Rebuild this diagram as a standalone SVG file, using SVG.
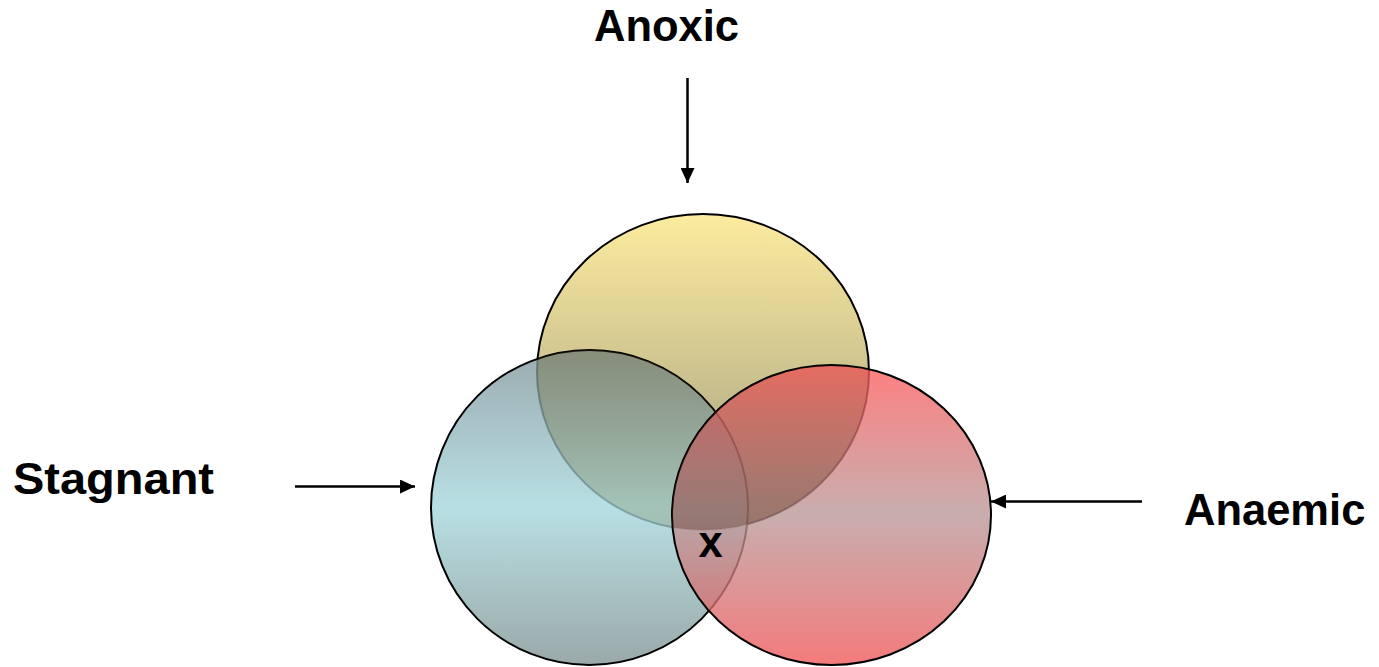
<svg xmlns="http://www.w3.org/2000/svg" width="1379" height="667" viewBox="0 0 1379 667">
  <style>
    .lbl { font-family: "Liberation Sans", Arial, sans-serif; font-weight: bold; font-size: 43.5px; fill: #000; }
    .circ { stroke: #000; stroke-width: 2; }
    .conn { stroke: #000; stroke-width: 2.5; fill: none; }
  </style>
  <defs>
    <linearGradient id="gYellow" x1="0" y1="0" x2="0" y2="1">
      <stop offset="0" stop-color="#fcec9f"/>
      <stop offset="0.6" stop-color="#c4bb8c"/>
      <stop offset="1" stop-color="#bcb288"/>
    </linearGradient>
    <linearGradient id="gBlue" x1="0" y1="0" x2="0" y2="1">
      <stop offset="0" stop-color="#7e939a"/>
      <stop offset="0.5" stop-color="#a4d7dc"/>
      <stop offset="1" stop-color="#7e9090"/>
    </linearGradient>
    <linearGradient id="gRed" x1="0" y1="0" x2="0" y2="1">
      <stop offset="0" stop-color="#fe5b5c"/>
      <stop offset="0.5" stop-color="#b99797"/>
      <stop offset="1" stop-color="#f15557"/>
    </linearGradient>
    <linearGradient id="ovBlue" x1="0" y1="0" x2="0" y2="1">
      <stop offset="0.43" stop-color="#6b5a20" stop-opacity="0.25"/>
      <stop offset="1" stop-color="#6b5a20" stop-opacity="0.08"/>
    </linearGradient>
    <linearGradient id="ovRed" x1="0" y1="0" x2="0" y2="1">
      <stop offset="0.5" stop-color="#5a2a20" stop-opacity="0.1"/>
      <stop offset="1" stop-color="#5a2a20" stop-opacity="0.35"/>
    </linearGradient>
    <clipPath id="clipBlue">
      <ellipse cx="589.5" cy="507.5" rx="158.5" ry="157.5"/>
    </clipPath>
    <clipPath id="clipRed">
      <ellipse cx="831.5" cy="515" rx="159.5" ry="150"/>
    </clipPath>
    <marker id="arrow" viewBox="0 0 15 14" refX="15" refY="7" markerWidth="15" markerHeight="14" markerUnits="userSpaceOnUse" orient="auto">
      <path d="M0,0 L15,7 L0,14 Z" fill="#000"/>
    </marker>
  </defs>

  <g id="anoxic">
    <ellipse cx="703" cy="372" rx="166" ry="158" fill="url(#gYellow)" class="circ"/>
    <text class="lbl" x="666.5" y="41" text-anchor="middle">Anoxic</text>
  </g>
  <g id="stagnant">
    <ellipse cx="589.5" cy="507.5" rx="158.5" ry="157.5" fill="url(#gBlue)" fill-opacity="0.78" class="circ"/>
    <ellipse cx="703" cy="372" rx="166" ry="158" fill="url(#ovBlue)" clip-path="url(#clipBlue)"/>
    <text class="lbl" x="13" y="494" textLength="201" lengthAdjust="spacingAndGlyphs">Stagnant</text>
  </g>
  <g id="anaemic">
    <ellipse cx="831.5" cy="515" rx="159.5" ry="150" fill="url(#gRed)" fill-opacity="0.78" class="circ"/>
    <ellipse cx="703" cy="372" rx="166" ry="158" fill="url(#ovRed)" clip-path="url(#clipRed)"/>
    <text class="lbl" x="1184" y="525">Anaemic</text>
  </g>
  <g id="intersection">
    <text class="lbl" x="710.5" y="557" text-anchor="middle" font-size="48">x</text>
  </g>

  <g id="connectors">
    <line class="conn" x1="687.5" y1="78" x2="687.5" y2="183" marker-end="url(#arrow)"/>
    <line class="conn" x1="295" y1="486.5" x2="415" y2="486.5" marker-end="url(#arrow)"/>
    <line class="conn" x1="1142" y1="501.5" x2="991" y2="501.5" marker-end="url(#arrow)"/>
  </g>
</svg>
